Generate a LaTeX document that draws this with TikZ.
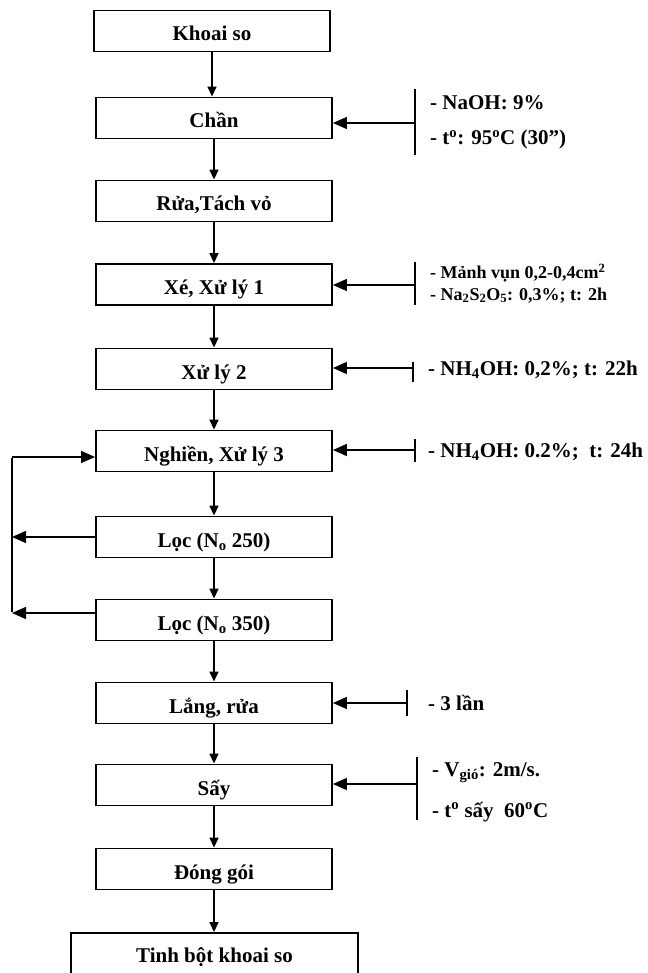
\documentclass[tikz,border=0pt]{standalone}
\usepackage{fontspec}
\setmainfont{Liberation Serif}
\usetikzlibrary{arrows.meta}
\begin{document}
\begin{tikzpicture}[x=1pt,y=-1pt,
  box/.style={draw,line width=1.9pt,minimum width=236pt,minimum height=41pt,inner sep=0pt,
    text height=20pt,text depth=0pt,font=\fontsize{21}{24}\selectfont\bfseries},
  flow/.style={line width=1.6pt,-{Triangle[length=10pt,width=9pt]}},
  feed/.style={line width=1.6pt,-{Triangle[length=14pt,width=12pt]}},
  bar/.style={line width=2.6pt},
  lbl/.style={anchor=base west,inner sep=0pt,font=\fontsize{21}{24}\selectfont\bfseries},
  lbls/.style={anchor=base west,inner sep=0pt,font=\fontsize{18}{21}\selectfont\bfseries}]
\useasboundingbox (0,0) rectangle (647,973);
\clip (0,0) rectangle (647,973);

% process boxes
\node[box] (b1) at (212,31) {Khoai so};
\node[box] (b2) at (214,118) {Chần};
\node[box] (b3) at (214,201) {Rửa,Tách vỏ};
\node[box] (b4) at (214,284.5) {Xé, Xử lý 1};
\node[box] (b5) at (214,369) {Xử lý 2};
\node[box] (b6) at (214,451) {Nghiền, Xử lý 3};
\node[box] (b7) at (214,537) {Lọc (N\textsubscript{o} 250)};
\node[box] (b8) at (214,620) {Lọc (N\textsubscript{o} 350)};
\node[box] (b9) at (214,703) {Lắng, rửa};
\node[box] (b10) at (214,785) {Sấy};
\node[box] (b11) at (214,869) {Đóng gói};
\node[box,minimum width=287pt,minimum height=44pt,text height=14pt] (b12) at (214.5,955) {Tinh bột khoai so};

% main flow
\draw[flow] (b1.south) -- (b1.south |- b2.north);
\draw[flow] (b2.south) -- (b2.south |- b3.north);
\draw[flow] (b3.south) -- (b3.south |- b4.north);
\draw[flow] (b4.south) -- (b4.south |- b5.north);
\draw[flow] (b5.south) -- (b5.south |- b6.north);
\draw[flow] (b6.south) -- (b6.south |- b7.north);
\draw[flow] (b7.south) -- (b7.south |- b8.north);
\draw[flow] (b8.south) -- (b8.south |- b9.north);
\draw[flow] (b9.south) -- (b9.south |- b10.north);
\draw[flow] (b10.south) -- (b10.south |- b11.north);
\draw[flow] (b11.south) -- (b11.south |- b12.north);

% recycle loop
\coordinate (lpTop) at (12,457);
\coordinate (lp7) at (12,537);
\coordinate (lp8) at (12,613);
\draw[line width=1.6pt] ([yshift=1pt]lp8) -- ([yshift=-0.8pt]lpTop);
\draw[feed] (lpTop) -- (lpTop -| b6.west);
\draw[feed] (b7.west |- lp7) -- (lp7);
\draw[feed] (b8.west |- lp8) -- (lp8);

% input bars
\draw[bar] (415,89) -- (415,155);
\draw[bar] (415,262) -- (415,305);
\draw[bar] (413,362) -- (413,382);
\draw[bar] (415,439) -- (415,462);
\draw[bar] (407,690) -- (407,716);
\draw[bar] (417,757) -- (417,820);

% input arrows
\coordinate (s2) at (415,123);
\coordinate (s4) at (415,285);
\coordinate (s5) at (413,368);
\coordinate (s6) at (415,450);
\coordinate (s9) at (407,703);
\coordinate (s10) at (417,784);
\draw[feed] (s2) -- (s2 -| b2.east);
\draw[feed] (s4) -- (s4 -| b4.east);
\draw[feed] (s5) -- (s5 -| b5.east);
\draw[feed] (s6) -- (s6 -| b6.east);
\draw[feed] (s9) -- (s9 -| b9.east);
\draw[feed] (s10) -- (s10 -| b10.east);

% labels
\node[lbl] (l2a) at (430,110) {- NaOH: 9\%};
\node[lbl] (l2b) at (430,145) {- t\textsuperscript{o}: 95\textsuperscript{o}C (30”)};
\node[lbls] (l4a) at (430,279) {- Mảnh vụn 0,2-0,4cm\textsuperscript{2}};
\node[lbls] (l4b) at (430,300) {- Na\textsubscript{2}S\textsubscript{2}O\textsubscript{5}: 0,3\%; t: 2h};
\node[lbl] (l5) at (428,375) {- NH\textsubscript{4}OH: 0,2\%; t: 22h};
\node[lbl] (l6) at (428,457) {- NH\textsubscript{4}OH: 0.2\%;\ \ t: 24h};
\node[lbl] (l9) at (428,710) {- 3 lần};
\node[lbl] (l10a) at (432,776) {- V\textsubscript{gió}: 2m/s.};
\node[lbl] (l10b) at (432,817) {- t\textsuperscript{o} sấy\ \ 60\textsuperscript{o}C};
\end{tikzpicture}
\end{document}
